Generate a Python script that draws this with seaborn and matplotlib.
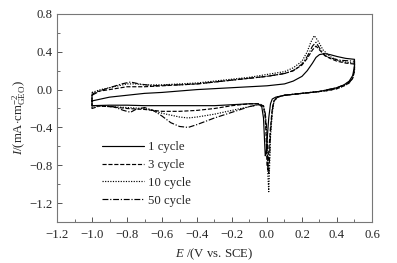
import numpy as np
import pandas as pd
import matplotlib
matplotlib.use("Agg")
import matplotlib.pyplot as plt
import seaborn as sns

# ---- data ----
labels = ["1 cycle", "3 cycle", "10 cycle", "50 cycle"]

e_1 = [-1.0, -0.95, -0.9, -0.8, -0.7, -0.6, -0.5, -0.4, -0.3, -0.2, -0.1, 0.0, 0.1, 0.15, 0.2, 0.23, 0.26, 0.28, 0.3, 0.33, 0.36, 0.4, 0.45, 0.5,
       0.5, 0.49, 0.47, 0.44, 0.4, 0.35, 0.3, 0.2, 0.1, 0.05, 0.03, 0.02, 0.01, 0.0, -0.005, -0.01, -0.015, -0.02, -0.03, -0.05, -0.1, -0.2, -0.3, -0.4, -0.5, -0.6, -0.7, -0.8, -0.9, -1.0, -1.0]
i_1 = [-0.12, -0.10, -0.08, -0.06, -0.04, -0.03, -0.015, 0.0, 0.01, 0.02, 0.03, 0.04, 0.06, 0.09, 0.14, 0.20, 0.28, 0.34, 0.37, 0.38, 0.37, 0.35, 0.33, 0.32,
       0.25, 0.15, 0.09, 0.05, 0.02, 0.0, -0.02, -0.04, -0.06, -0.08, -0.10, -0.15, -0.30, -0.55, -0.68, -0.70, -0.50, -0.30, -0.18, -0.15, -0.15, -0.16, -0.17, -0.17, -0.17, -0.17, -0.17, -0.165, -0.165, -0.17, -0.12]

e_3 = [-1.0, -0.97, -0.9, -0.8, -0.7, -0.6, -0.5, -0.4, -0.3, -0.2, -0.1, 0.0, 0.1, 0.15, 0.2, 0.23, 0.26, 0.28, 0.3, 0.33, 0.36, 0.4, 0.45, 0.5,
       0.5, 0.49, 0.47, 0.44, 0.4, 0.35, 0.3, 0.2, 0.1, 0.06, 0.04, 0.03, 0.02, 0.01, 0.005, 0.0, -0.005, -0.01, -0.02, -0.04, -0.1, -0.2, -0.3, -0.4, -0.5, -0.6, -0.7, -0.8, -0.9, -1.0, -1.0]
i_3 = [-0.05, -0.02, 0.0, 0.03, 0.03, 0.04, 0.05, 0.06, 0.08, 0.10, 0.12, 0.14, 0.17, 0.20, 0.26, 0.33, 0.42, 0.46, 0.42, 0.36, 0.33, 0.30, 0.28, 0.27,
       0.20, 0.12, 0.07, 0.04, 0.01, -0.01, -0.02, -0.04, -0.06, -0.08, -0.12, -0.20, -0.40, -0.65, -0.85, -0.80, -0.50, -0.30, -0.18, -0.15, -0.15, -0.17, -0.20, -0.22, -0.23, -0.23, -0.21, -0.20, -0.18, -0.17, -0.05]

e_10 = [-1.0, -0.95, -0.9, -0.8, -0.75, -0.7, -0.6, -0.5, -0.4, -0.3, -0.2, -0.1, 0.0, 0.1, 0.15, 0.2, 0.23, 0.25, 0.27, 0.29, 0.32, 0.36, 0.4, 0.45, 0.5,
        0.5, 0.49, 0.47, 0.44, 0.4, 0.35, 0.3, 0.2, 0.1, 0.06, 0.04, 0.03, 0.02, 0.015, 0.01, 0.005, 0.0, -0.01, -0.02, -0.05, -0.1, -0.2, -0.3, -0.4, -0.45, -0.5, -0.6, -0.7, -0.8, -0.9, -1.0, -1.0]
i_10 = [-0.03, 0.0, 0.02, 0.06, 0.06, 0.05, 0.05, 0.06, 0.07, 0.09, 0.11, 0.13, 0.16, 0.19, 0.23, 0.30, 0.40, 0.50, 0.57, 0.52, 0.42, 0.35, 0.31, 0.29, 0.28,
        0.20, 0.12, 0.07, 0.04, 0.01, -0.01, -0.02, -0.04, -0.06, -0.08, -0.12, -0.25, -0.50, -0.80, -1.08, -0.90, -0.50, -0.25, -0.18, -0.16, -0.18, -0.22, -0.26, -0.29, -0.30, -0.29, -0.25, -0.20, -0.19, -0.18, -0.17, -0.03]

e_50 = [-1.0, -0.95, -0.9, -0.83, -0.78, -0.73, -0.65, -0.55, -0.5, -0.4, -0.3, -0.2, -0.1, 0.0, 0.1, 0.15, 0.2, 0.23, 0.26, 0.28, 0.3, 0.33, 0.37, 0.42, 0.5,
        0.5, 0.49, 0.47, 0.44, 0.4, 0.35, 0.3, 0.2, 0.1, 0.06, 0.04, 0.03, 0.02, 0.015, 0.01, 0.005, 0.0, -0.01, -0.02, -0.05, -0.1, -0.2, -0.3, -0.4, -0.45, -0.5, -0.55, -0.6, -0.65, -0.7, -0.75, -0.78, -0.82, -0.88, -0.95, -1.0, -1.0]
i_50 = [-0.06, -0.01, 0.02, 0.06, 0.08, 0.06, 0.04, 0.05, 0.05, 0.06, 0.08, 0.10, 0.12, 0.14, 0.17, 0.20, 0.27, 0.35, 0.46, 0.50, 0.44, 0.36, 0.33, 0.31, 0.30,
        0.21, 0.13, 0.08, 0.05, 0.02, 0.0, -0.02, -0.04, -0.06, -0.08, -0.12, -0.22, -0.45, -0.70, -0.90, -0.80, -0.45, -0.25, -0.17, -0.16, -0.18, -0.24, -0.30, -0.37, -0.40, -0.39, -0.35, -0.28, -0.22, -0.19, -0.21, -0.24, -0.22, -0.18, -0.17, -0.20, -0.06]

x_ticks = [-1.2, -1.0, -0.8, -0.6, -0.4, -0.2, 0.0, 0.2, 0.4, 0.6]
y_ticks = [-1.2, -0.8, -0.4, 0.0, 0.4, 0.8]

series = [(labels[0], e_1, i_1), (labels[1], e_3, i_3), (labels[2], e_10, i_10), (labels[3], e_50, i_50)]
frames = []
for name, e, i in series:
    frames.append(pd.DataFrame({"E": e, "I": i, "cycle": name, "order": np.arange(len(e))}))
df = pd.concat(frames, ignore_index=True)

sns.set_theme(style="ticks")
plt.rcParams["font.family"] = ["Liberation Serif", "DejaVu Serif"]
plt.rcParams["mathtext.fontset"] = "custom"
plt.rcParams["mathtext.rm"] = "Liberation Serif"
plt.rcParams["mathtext.it"] = "Liberation Serif:italic"

fig = plt.figure(figsize=(3.97, 2.63), dpi=100)
ax = fig.add_axes([0.1436, 0.156, 0.7934, 0.791])

styles = {labels[0]: "-", labels[1]: (0, (3.5, 1.5)), labels[2]: (0, (1, 1.2)), labels[3]: (0, (5, 1.5, 1, 1.5))}
for name in labels:
    sub = df[df["cycle"] == name].sort_values("order")
    sns.lineplot(data=sub, x="E", y="I", sort=False, estimator=None, ax=ax,
                 color="black", linewidth=0.85, linestyle=styles[name], label=name)

ax.set_xlim(-1.2, 0.6)
ax.set_ylim(-1.4, 0.8)
ax.set_xticks(x_ticks)
ax.set_yticks(y_ticks)
ax.set_xticklabels([f"{v:.1f}".replace("-", "\u2212") for v in x_ticks])
ax.set_yticklabels([f"{v:.1f}".replace("-", "\u2212") for v in y_ticks])
ax.set_xticks(np.arange(-1.1, 0.6, 0.2), minor=True)
ax.set_yticks(np.arange(-1.0, 0.8, 0.4), minor=True)
ax.tick_params(axis="both", which="major", direction="in", length=3.5, width=0.7, labelsize=9.2, color="#555555")
ax.tick_params(axis="x", which="major", pad=5)
ax.tick_params(axis="y", which="major", pad=3)
ax.tick_params(axis="both", which="minor", direction="in", length=2, width=0.6, color="#555555")
for s in ax.spines.values():
    s.set_color("#777777")
    s.set_linewidth(0.8)

ax.set_xlabel(r"$E$ /(V vs. SCE)", fontsize=9.2, labelpad=4)
ax.set_ylabel(r"$I$/(mA$\cdot$cm$^{-2}_{\rm GEO}$)", fontsize=9.2, labelpad=1)

leg = ax.legend(loc="upper left", bbox_to_anchor=(0.115, 0.43), frameon=False, fontsize=9.2,
                handlelength=3.3, handletextpad=0.3, labelspacing=0.45, borderpad=0.2)

fig.savefig("out.png", dpi=100)
